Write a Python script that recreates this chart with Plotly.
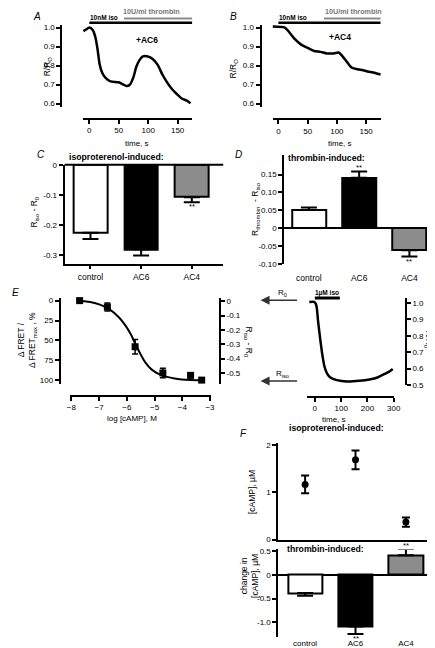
import plotly.graph_objects as go

W, H = 435, 648
FONT = "Liberation Sans"


def fx(p):
    return p / W


def fy(p):
    return 1 - p / H


# ---------------- data ----------------
# Panel A: +AC6 trace
a_time = [-10, -5.4, 0.2, 5.7, 10, 13.7, 17.6, 22, 27.6, 35.9, 49.7, 58, 63.5, 69, 74.5, 80,
          85.5, 91, 99.3, 107.6, 115.9, 124.1, 132.4, 140.7, 149, 157, 165.6, 172]
a_ratio = [0.981, 0.99, 1.0, 0.987, 0.952, 0.891, 0.805, 0.761, 0.735, 0.717, 0.712, 0.70, 0.692,
           0.70, 0.735, 0.795, 0.83, 0.848, 0.848, 0.835, 0.805, 0.753, 0.71, 0.675, 0.649,
           0.627, 0.615, 0.601]

# Panel B: +AC4 trace
b_time = [-10, 11, 16.7, 27.8, 39, 50, 61, 72, 83, 94.5, 103, 108, 116.7, 125, 133, 144.5,
          155.6, 166.7, 175]
b_ratio = [1.005, 1.0, 0.983, 0.94, 0.91, 0.893, 0.877, 0.872, 0.864, 0.864, 0.869, 0.855,
           0.821, 0.79, 0.782, 0.775, 0.767, 0.76, 0.753]

groups = ["control", "AC6", "AC4"]
bar_colors = ["white", "black", "#8c8c8c"]

# Panel C: isoproterenol-induced R_iso - R_0
c_vals = [-0.225, -0.28, -0.107]
c_err = [0.021, 0.02, 0.017]
c_sig = ["", "", "**"]

# Panel D: thrombin-induced R_thrombin - R_iso
d_vals = [0.051, 0.141, -0.062]
d_err = [0.007, 0.018, 0.018]
d_sig = ["", "**", "**"]

# Panel E: calibration
e_logc = [-7.7, -6.7, -5.7, -4.7, -3.7, -3.3]
e_pct = [0, 8, 58, 91, 94, 100]
e_err = [0, 5, 9, 6, 3, 0]
e_fit_x = [-7.67, -7.32, -6.97, -6.62, -6.27, -6.04, -5.86, -5.69, -5.51, -5.34, -5.10,
           -4.75, -4.28, -3.70, -3.18]
e_fit_y = [0, 1.7, 5, 11, 21.5, 31.8, 42, 54.6, 67, 77.3, 86.8, 93.8, 98, 100, 100]

# Panel E right: 1 uM iso trace
er_time = [-21, -2.6, 3.7, 7.4, 12.2, 19.6, 28, 37, 46.7, 59, 83.7, 121, 170, 207, 238, 263,
           281, 296]
er_ratio = [1.006, 1.006, 0.994, 0.97, 0.89, 0.79, 0.69, 0.61, 0.57, 0.546, 0.53, 0.522,
            0.526, 0.534, 0.546, 0.566, 0.58, 0.598]

# Panel F
f_iso = [1.17, 1.69, 0.37]
f_iso_err = [0.19, 0.2, 0.1]
f_thr = [-0.38, -1.085, 0.415]
f_thr_err = [0.06, 0.16, 0.13]
f_sig = ["", "**", "**"]


# ---------------- helpers ----------------
def axis(**kw):
    base = dict(showgrid=False, zeroline=False, showline=True, linecolor="black", linewidth=2,
                ticks="outside", ticklen=4, tickwidth=2, tickcolor="black",
                tickfont=dict(size=8, family=FONT, color="black"), fixedrange=True)
    base.update(kw)
    return base


def ann(text, x, y, size=8, xanchor="center", yanchor="middle", angle=0, color="black"):
    return dict(text=text, x=fx(x), y=fy(y), xref="paper", yref="paper", showarrow=False,
                xanchor=xanchor, yanchor=yanchor, textangle=angle,
                font=dict(size=size, family=FONT, color=color))


def split_err(vals, errs):
    plus = [e if v > 0 else 0 for v, e in zip(vals, errs)]
    minus = [e if v < 0 else 0 for v, e in zip(vals, errs)]
    return plus, minus


fig = go.Figure()

# A
fig.add_trace(go.Scatter(x=a_time, y=a_ratio, mode="lines", xaxis="x", yaxis="y",
                         line=dict(color="black", width=2.5, shape="spline", smoothing=0.6)))
# B
fig.add_trace(go.Scatter(x=b_time, y=b_ratio, mode="lines", xaxis="x2", yaxis="y2",
                         line=dict(color="black", width=2.5, shape="spline", smoothing=0.6)))
# C
cp, cm = split_err(c_vals, c_err)
fig.add_trace(go.Bar(x=groups, y=c_vals, xaxis="x3", yaxis="y3", width=0.67,
                     marker=dict(color=bar_colors, line=dict(color="black", width=2)),
                     error_y=dict(type="data", symmetric=False, array=cp, arrayminus=cm,
                                  thickness=2, width=8, color="black"),
                     cliponaxis=False))
# D
dp, dm = split_err(d_vals, d_err)
fig.add_trace(go.Bar(x=groups, y=d_vals, xaxis="x4", yaxis="y4", width=0.68,
                     marker=dict(color=bar_colors, line=dict(color="black", width=2)),
                     error_y=dict(type="data", symmetric=False, array=dp, arrayminus=dm,
                                  thickness=2, width=8, color="black"),
                     cliponaxis=False))
# E left
fig.add_trace(go.Scatter(x=e_fit_x, y=e_fit_y, mode="lines", xaxis="x5", yaxis="y5",
                         line=dict(color="black", width=2, shape="spline")))
fig.add_trace(go.Scatter(x=e_logc, y=e_pct, mode="markers", xaxis="x5", yaxis="y5",
                         marker=dict(symbol="square", size=7, color="black"),
                         error_y=dict(type="data", array=e_err, thickness=1.5, width=3,
                                      color="black"),
                         cliponaxis=False))
fig.add_trace(go.Scatter(x=[], y=[], xaxis="x5", yaxis="y6"))
# E right
fig.add_trace(go.Scatter(x=er_time, y=er_ratio, mode="lines", xaxis="x6", yaxis="y7",
                         line=dict(color="black", width=2.5, shape="spline", smoothing=0.5)))
# F top
fig.add_trace(go.Scatter(x=groups, y=f_iso, mode="markers", xaxis="x7", yaxis="y8",
                         marker=dict(symbol="circle", size=7, color="black"),
                         error_y=dict(type="data", array=f_iso_err, thickness=2, width=4,
                                      color="black"),
                         cliponaxis=False))
# F bottom
fp, fm = split_err(f_thr, f_thr_err)
fig.add_trace(go.Bar(x=groups, y=f_thr, xaxis="x8", yaxis="y9", width=0.68,
                     marker=dict(color=bar_colors, line=dict(color="black", width=2)),
                     error_y=dict(type="data", symmetric=False, array=fp, arrayminus=fm,
                                  thickness=2, width=8, color="black"),
                     cliponaxis=False))

t_ticks = [0, 50, 100, 150]
r_ticks = [0.6, 0.7, 0.8, 0.9, 1.0]

C_RANGE = [-0.330, 0.0]
D_RANGE = [-0.102, 0.205]
F_RANGE = [-1.31, 0.535]

layout = dict(
    width=W, height=H, margin=dict(l=0, r=0, t=0, b=0), showlegend=False,
    plot_bgcolor="white", paper_bgcolor="white",
    font=dict(family=FONT, size=8, color="black"),
    bargap=0,
    # A
    xaxis=axis(domain=[fx(72.7), fx(185)], range=[-11, 175], anchor="free", position=fy(108),
               tickvals=t_ticks),
    yaxis=axis(domain=[fy(96.7), fy(12.7)], range=[0.58, 1.016], anchor="free",
               position=fx(50.7), tickvals=r_ticks, tickformat=".1f"),
    # B
    xaxis2=axis(domain=[fx(267.3), fx(378.3)], range=[-10, 175], anchor="free",
                position=fy(108.5), tickvals=t_ticks),
    yaxis2=axis(domain=[fy(96.7), fy(12.7)], range=[0.58, 1.016], anchor="free",
                position=fx(255), tickvals=r_ticks, tickformat=".1f"),
    # C
    xaxis3=axis(domain=[fx(54), fx(216.7)], range=[-0.51, 2.62], anchor="y3", ticklen=3,
                tickfont=dict(size=8.5, family=FONT, color="black")),
    yaxis3=axis(domain=[fy(256), fy(155)], range=C_RANGE, anchor="x3",
                tickvals=[0, -0.1, -0.2, -0.3], ticktext=["0", "-0.1", "-0.2", "-0.3"]),
    # D
    xaxis4=axis(domain=[fx(279.3), fx(433)], range=[-0.49, 2.49], anchor="y4", showline=False,
                tickcolor="rgba(0,0,0,0)", ticklen=5,
                tickfont=dict(size=8.5, family=FONT, color="black")),
    yaxis4=axis(domain=[fy(256), fy(145)], range=D_RANGE, anchor="x4",
                zeroline=True, zerolinewidth=2, zerolinecolor="black",
                tickvals=[0.15, 0.10, 0.05, 0, -0.05, -0.10],
                ticktext=["0.15", "0.10", "0.05", "0", "-0.05", "-0.10"]),
    # E left
    xaxis5=axis(domain=[fx(60), fx(204)], range=[-8.03, -2.97], anchor="free",
                position=fy(389.3), tickvals=[-8, -7, -6, -5, -4, -3]),
    yaxis5=axis(domain=[fy(377), fy(290)], range=[104.6, -3.35], anchor="free",
                position=fx(49), tickvals=[0, 25, 50, 75, 100]),
    yaxis6=axis(overlaying="y5", side="right", anchor="free", position=fx(213.3),
                range=[-0.575, 0.023], tickvals=[0, -0.1, -0.2, -0.3, -0.4, -0.5],
                ticktext=["0", "-0.1", "-0.2", "-0.3", "-0.4", "-0.5"]),
    # E right
    xaxis6=axis(domain=[fx(302.7), fx(391.7)], range=[-29.6, 300], anchor="free",
                position=fy(390), tickvals=[0, 100, 200, 300]),
    yaxis7=axis(domain=[fy(378.3), fy(290)], range=[0.5, 1.03], side="right", anchor="free",
                position=fx(404), tickvals=[0.5, 0.6, 0.7, 0.8, 0.9, 1.0], tickformat=".1f"),
    # F top
    xaxis7=axis(domain=[fx(273.3), fx(430)], range=[-0.53, 2.5], anchor="y8",
                showticklabels=False, ticks=""),
    yaxis8=axis(domain=[fy(535), fy(436.7)], range=[0, 2.055], anchor="x7", tickvals=[0, 1, 2]),
    # F bottom
    xaxis8=axis(domain=[fx(273.3), fx(430)], range=[-0.53, 2.5], anchor="y9", showline=False,
                ticks="", tickfont=dict(size=8, family=FONT, color="black")),
    yaxis9=axis(domain=[fy(634), fy(545)], range=F_RANGE, anchor="x8",
                zeroline=True, zerolinewidth=2, zerolinecolor="black",
                tickvals=[0.5, 0, -0.5, -1.0], ticktext=["0.5", "0", "-0.5", "-1.0"]),
)
fig.update_layout(**layout)

# shapes: stimulus bars and C zero line
shapes = [
    dict(type="line", xref="x", yref="paper", x0=0, x1=175, y0=fy(11), y1=fy(11),
         line=dict(color="black", width=2.5)),
    dict(type="line", xref="x", yref="paper", x0=59, x1=175, y0=fy(6.7), y1=fy(6.7),
         line=dict(color="#8a8a8a", width=2)),
    dict(type="line", xref="x2", yref="paper", x0=0, x1=175, y0=fy(11), y1=fy(11),
         line=dict(color="black", width=2.5)),
    dict(type="line", xref="x2", yref="paper", x0=78, x1=175, y0=fy(6.7), y1=fy(6.7),
         line=dict(color="#8a8a8a", width=2)),
    dict(type="line", xref="x6", yref="paper", x0=0, x1=95, y0=fy(290), y1=fy(290),
         line=dict(color="black", width=3)),
    dict(type="line", xref="paper", yref="paper", x0=fx(54), x1=fx(216.7), y0=fy(155),
         y1=fy(155), line=dict(color="black", width=2)),
]
fig.update_layout(shapes=shapes)

annotations = [
    # panel letters
    ann("<i>A</i>", 25.5, 5, size=10),
    ann("<i>B</i>", 227.5, 5, size=10),
    ann("<i>C</i>", 30, 145, size=10),
    ann("<i>D</i>", 232, 145, size=10),
    ann("<i>E</i>", 4, 284, size=10),
    ann("<i>F</i>", 237.5, 427, size=10),
    # A
    ann("<b>10nM iso</b>", 78, 6, size=6.5, xanchor="left"),
    ann("<b>10U/ml thrombin</b>", 112, 6, size=7.2, xanchor="left", yanchor="bottom",
        color="#777777"),
    ann("<b>+AC6</b>", 138, 28, size=8.5),
    ann("R/R<sub>O</sub>", 36, 55, size=8.5, angle=-90),
    ann("time, s", 128, 133, size=8),
    # B
    ann("<b>10nM iso</b>", 272, 6, size=6.5, xanchor="left"),
    ann("<b>10U/ml thrombin</b>", 319, 6, size=7.2, xanchor="left", yanchor="bottom",
        color="#777777"),
    ann("<b>+AC4</b>", 337, 25, size=8.5),
    ann("R/R<sub>O</sub>", 227, 57, size=8.5, angle=-90),
    ann("time, s", 336, 133, size=8),
    # C
    ann("<b>isoproterenol-induced:</b>", 56, 147, size=8.7, xanchor="left"),
    ann("R<sub>iso</sub> - R<sub>0</sub>", 23, 203, size=8.5, angle=-90),
    # D
    ann("<b>thrombin-induced:</b>", 281, 148, size=8.7, xanchor="left"),
    ann("R<sub>thrombin</sub>  - R<sub>iso</sub>", 250, 200, size=8.5, angle=-90),
    # E
    ann("\u0394 FRET /<br>\u0394 FRET<sub>max</sub> , %", 16, 333, size=8.5, angle=-90),
    ann("log [cAMP], M", 123, 412, size=8),
    ann("R<sub>iso</sub> - R<sub>0</sub>", 243, 335, size=8.5, angle=90),
    ann("<b>1\u00b5M iso</b>", 323, 285, size=6.5),
    ann("R<sub>0</sub>", 278, 285, size=8),
    ann("R<sub>iso</sub>", 278, 367, size=8),
    ann("R/R<sub>0</sub>", 427, 332, size=8.5, angle=90),
    ann("time, s", 330, 413, size=8),
    # F
    ann("<b>isoproterenol-induced:</b>", 282, 422, size=8.7, xanchor="left"),
    ann("[cAMP], \u00b5M", 246, 487, size=8.5, angle=-90),
    ann("<b>thrombin-induced:</b>", 280, 545, size=8.7, xanchor="left"),
    ann("change in<br>[cAMP], \u00b5M", 243, 572, size=8.5, angle=-90),
]

# arrows in E (tail 38 px to the right of the head)
for yy in (292.3, 374.3):
    annotations.append(dict(text="", x=fx(255), y=fy(yy), ax=38, ay=0,
                            xref="paper", yref="paper", axref="pixel", ayref="pixel",
                            showarrow=True, arrowhead=2, arrowsize=1.2, arrowwidth=1.5,
                            arrowcolor="#333333"))


# significance markers: anchored at the bar end, shifted past the error bar
def sig_anns(vals, errs, sigs, xref, yref, rng, dom_px):
    ppu = dom_px / (rng[1] - rng[0])
    out = []
    for g, v, e, s in zip(groups, vals, errs, sigs):
        if not s:
            continue
        if v < 0:
            out.append(dict(text=s, x=g, y=v, xref=xref, yref=yref, showarrow=False,
                            yanchor="top", yshift=-(e * ppu) + 2,
                            font=dict(size=7.5, family=FONT)))
        else:
            out.append(dict(text=s, x=g, y=v, xref=xref, yref=yref, showarrow=False,
                            yanchor="bottom", yshift=(e * ppu) - 3,
                            font=dict(size=7.5, family=FONT)))
    return out


annotations += sig_anns(c_vals, c_err, c_sig, "x3", "y3", C_RANGE, 256 - 155)
annotations += sig_anns(d_vals, d_err, d_sig, "x4", "y4", D_RANGE, 256 - 145)
annotations += sig_anns(f_thr, f_thr_err, f_sig, "x8", "y9", F_RANGE, 634 - 545)

fig.update_layout(annotations=annotations)

fig.write_html("out.html")
